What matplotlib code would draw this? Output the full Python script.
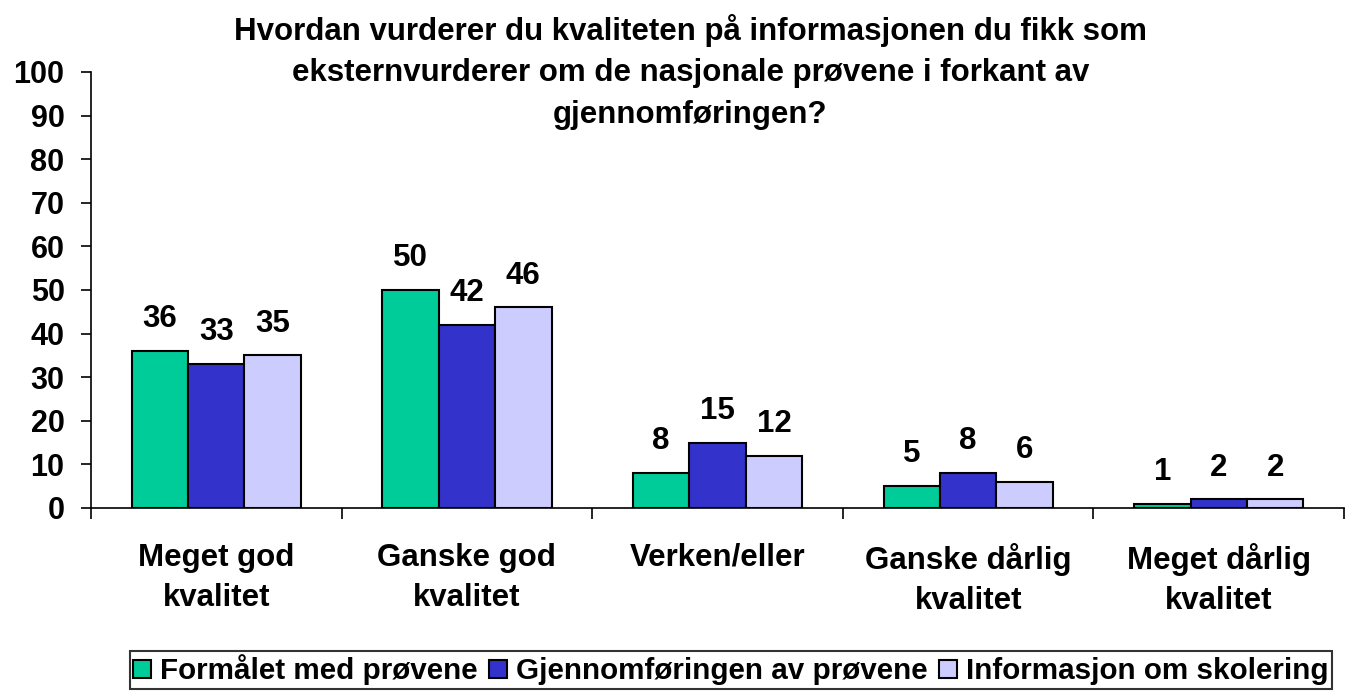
import matplotlib.pyplot as plt
import numpy as np

plt.rcParams['font.family'] = ['Liberation Sans', 'DejaVu Sans']
plt.rcParams['font.weight'] = 'bold'

### data
categories = ["Meget god\nkvalitet", "Ganske god\nkvalitet", "Verken/eller",
              "Ganske dårlig\nkvalitet", "Meget dårlig\nkvalitet"]
formalet = [36, 50, 8, 5, 1]
gjennomforingen = [33, 42, 15, 8, 2]
informasjon = [35, 46, 12, 6, 2]
series_names = ["Formålet med prøvene", "Gjennomføringen av prøvene", "Informasjon om skolering"]
colors = ["#00CC99", "#3333CC", "#CCCCFF"]
yticks = list(range(0, 101, 10))

fig = plt.figure(figsize=(13.46, 6.92), dpi=100)
ax = fig.add_axes([0.0676, 0.266, 0.931, 0.63])

x = np.arange(len(categories))
w = 0.225
for i, (vals, name, c) in enumerate(zip([formalet, gjennomforingen, informasjon], series_names, colors)):
    pos = x + (i - 1) * w
    ax.bar(pos, vals, width=w, color=c, edgecolor="black", linewidth=1.5, label=name)
    for p, v in zip(pos, vals):
        ax.annotate(str(v), (p, v), xytext=(0, 12), textcoords="offset points",
                    ha="center", va="bottom", fontsize=22.5, fontweight="bold")

ax.set_xlim(-0.5, len(categories) - 0.5)
ax.set_ylim(0, 100)
ax.set_yticks(yticks)
ax.tick_params(axis="y", labelsize=22, length=7, width=1.2, pad=12)

### x ticks at the borders between categories, labels in the middle
ax.set_xticks(np.arange(len(categories) + 1) - 0.5)
ax.set_xticklabels([])
ax.set_xticks(x, minor=True)
ax.set_xticklabels(categories, minor=True, fontsize=22.5, fontweight="bold", linespacing=1.45)
ax.tick_params(axis="x", which="major", length=8, width=1.2)
ax.tick_params(axis="x", which="minor", length=0, pad=25)

ax.spines["top"].set_visible(False)
ax.spines["right"].set_visible(False)
ax.spines["left"].set_linewidth(1.2)
ax.spines["bottom"].set_linewidth(1.2)

fig.text(0.513, 0.98, "Hvordan vurderer du kvaliteten på informasjonen du fikk som\n"
         "eksternvurderer om de nasjonale prøvene i forkant av\ngjennomføringen?",
         ha="center", va="top", fontsize=22.5, fontweight="bold", linespacing=1.5)

leg = fig.legend(loc="lower center", bbox_to_anchor=(0.543, 0.0), ncol=3, fontsize=21.3,
                 frameon=True, fancybox=False, edgecolor="black", handlelength=0.6,
                 handleheight=0.6, handletextpad=0.3, columnspacing=0.4,
                 borderpad=0.12, borderaxespad=0.1)
leg.get_frame().set_linewidth(1.5)

plt.savefig("out.png", dpi=100)
